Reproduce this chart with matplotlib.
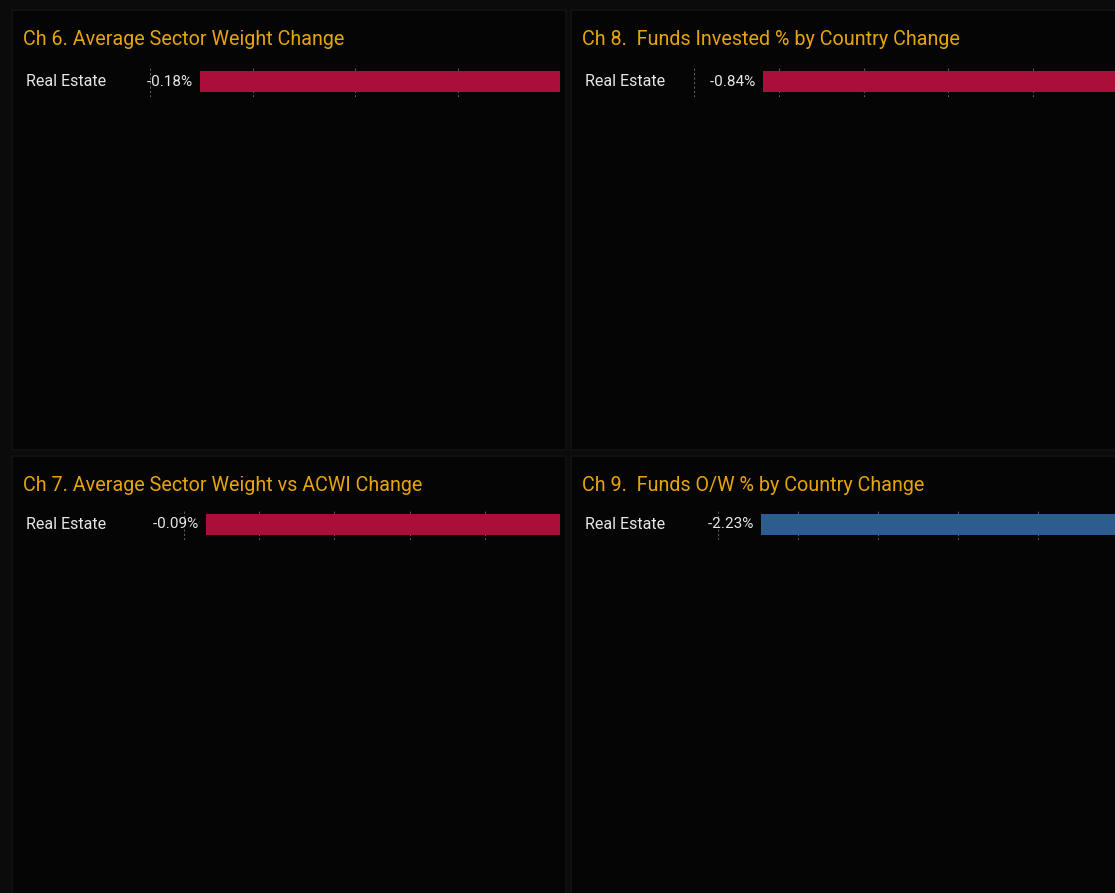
import numpy as np
import matplotlib
matplotlib.use("Agg")
import matplotlib.pyplot as plt
from matplotlib.patches import Rectangle

W, H = 1115, 893

# chart data
titles = ["Ch 6. Average Sector Weight Change",
          "Ch 8.  Funds Invested % by Country Change",
          "Ch 7. Average Sector Weight vs ACWI Change",
          "Ch 9.  Funds O/W % by Country Change"]
sectors = ["Real Estate"]
values = [[-0.18], [-0.84], [-0.09], [-2.23]]
colors = ["#ab0e3a", "#ab0e3a", "#ab0e3a", "#2d5d8e"]

# layout in pixels (left, top, right, bottom), axis boxes, bar start
panels = [(12, 10, 566, 450), (571, 10, 1125, 450),
          (12, 456, 566, 900), (571, 456, 1125, 900)]
axes_px = [(150, 66, 560, 97), (694, 66, 1118, 97),
           (184, 509, 560, 540), (717.5, 509, 1118, 540)]
n_ticks = [4, 5, 5, 5]
bar_start = [200, 763, 205.5, 761]

plt.rcParams['font.family'] = ['Roboto', 'DejaVu Sans']

fig = plt.figure(figsize=(W / 100, H / 100), dpi=100)
fig.patch.set_facecolor("#0b0b0b")

for (l, t, r, b) in panels:
    fig.patches.append(Rectangle((l / W, 1 - b / H), (r - l) / W, (b - t) / H,
                                 transform=fig.transFigure, facecolor="#050505",
                                 edgecolor="#101010", lw=1.5, zorder=-5))

for i in range(4):
    l, t, r, b = axes_px[i]
    ax = fig.add_axes([l / W, 1 - b / H, (r - l) / W, (b - t) / H], zorder=2)
    ax.set_facecolor("none")
    v = values[i][0]
    # inverted axis: zero sits at the bar start, the value at the right edge
    f0 = (bar_start[i] - l) / (r - l)
    span = v / (1 - f0)
    left = -f0 * span
    ax.set_xlim(left, v)
    ax.set_ylim(-0.5, 0.5)
    ax.barh(range(len(sectors)), values[i], height=0.68, color=colors[i], zorder=2)
    ax.set_xticks(np.linspace(left, v, n_ticks[i] + 1))
    ax.grid(axis='x', linestyle=(0, (2, 2)), color="#5a5a5a", lw=0.8, zorder=1)
    ax.set_axisbelow(True)
    ax.tick_params(length=0, labelbottom=False, labelleft=False)
    for s in ax.spines.values():
        s.set_visible(False)
    for j, val in enumerate(values[i]):
        ax.text(0, j, f"{val:.2f}%  ", ha='right', va='center', color="#e6e6e6",
                fontsize=11)
    pl, pt = panels[i][0], panels[i][1]
    fig.text((pl + 14) / W, 1 - (t + b) / 2 / H, sectors[0], ha='left', va='center',
             color="#e6e6e6", fontsize=11.5)
    fig.text((pl + 11) / W, 1 - (pt + 29.5) / H, titles[i], ha='left', va='center',
             color="#e5a50a", fontsize=14.2)

fig.savefig("out.png", dpi=100, facecolor=fig.get_facecolor())
